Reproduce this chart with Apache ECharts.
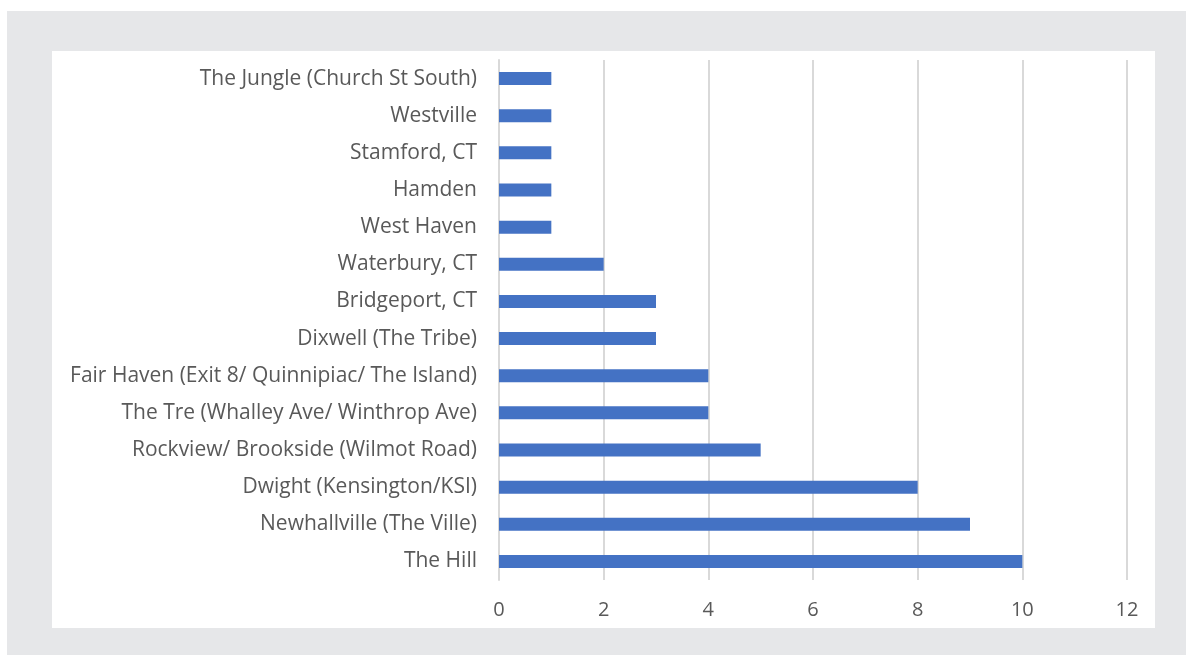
<!DOCTYPE html>
<html>
<head>
<meta charset="utf-8">
<script src="https://cdn.jsdelivr.net/npm/echarts@6/dist/echarts.min.js"></script>
<style>
  html, body { margin: 0; padding: 0; background: #ffffff; width: 1186px; height: 655px; overflow: hidden; }
  #bg { position: absolute; left: 7px; top: 11px; width: 1179px; height: 644px; background: #e6e7e9; }
  #chart { position: absolute; left: 52px; top: 51px; width: 1103px; height: 577px; background: #ffffff; }
</style>
</head>
<body>
<div id="bg"></div>
<div id="chart"></div>
<script>
const categories = [
  "The Hill",
  "Newhallville (The Ville)",
  "Dwight (Kensington/KSI)",
  "Rockview/ Brookside (Wilmot Road)",
  "The Tre (Whalley Ave/ Winthrop Ave)",
  "Fair Haven (Exit 8/ Quinnipiac/ The Island)",
  "Dixwell (The Tribe)",
  "Bridgeport, CT",
  "Waterbury, CT",
  "West Haven",
  "Hamden",
  "Stamford, CT",
  "Westville",
  "The Jungle (Church St South)"
];
const values = [10, 9, 8, 5, 4, 4, 3, 3, 2, 1, 1, 1, 1, 1];
const xTicks = { min: 0, max: 12, interval: 2 };

const chart = echarts.init(document.getElementById('chart'), null, { renderer: 'canvas' });
const fontFamily = '"Open Sans", "Noto Sans", "DejaVu Sans", sans-serif';
chart.setOption({
  animation: false,
  backgroundColor: '#ffffff',
  grid: { left: 447, right: 28, top: 9, bottom: 48, containLabel: false },
  xAxis: {
    type: 'value',
    min: xTicks.min, max: xTicks.max, interval: xTicks.interval,
    axisLine: { show: false },
    axisTick: { show: false },
    splitLine: { show: true, lineStyle: { color: '#d9d9d9', width: 2 } },
    axisLabel: { color: '#595959', fontSize: 20, fontFamily: fontFamily, margin: 20 }
  },
  yAxis: {
    type: 'category',
    data: categories,
    axisLine: { show: true, lineStyle: { color: '#d9d9d9', width: 2 } },
    axisTick: { show: false },
    axisLabel: { color: '#595959', fontSize: 21, fontFamily: fontFamily, margin: 22, padding: [3, 0, 0, 0] }
  },
  series: [{
    type: 'bar',
    data: values,
    barWidth: 13,
    itemStyle: { color: '#4472c4' }
  }]
});
</script>
</body>
</html>
